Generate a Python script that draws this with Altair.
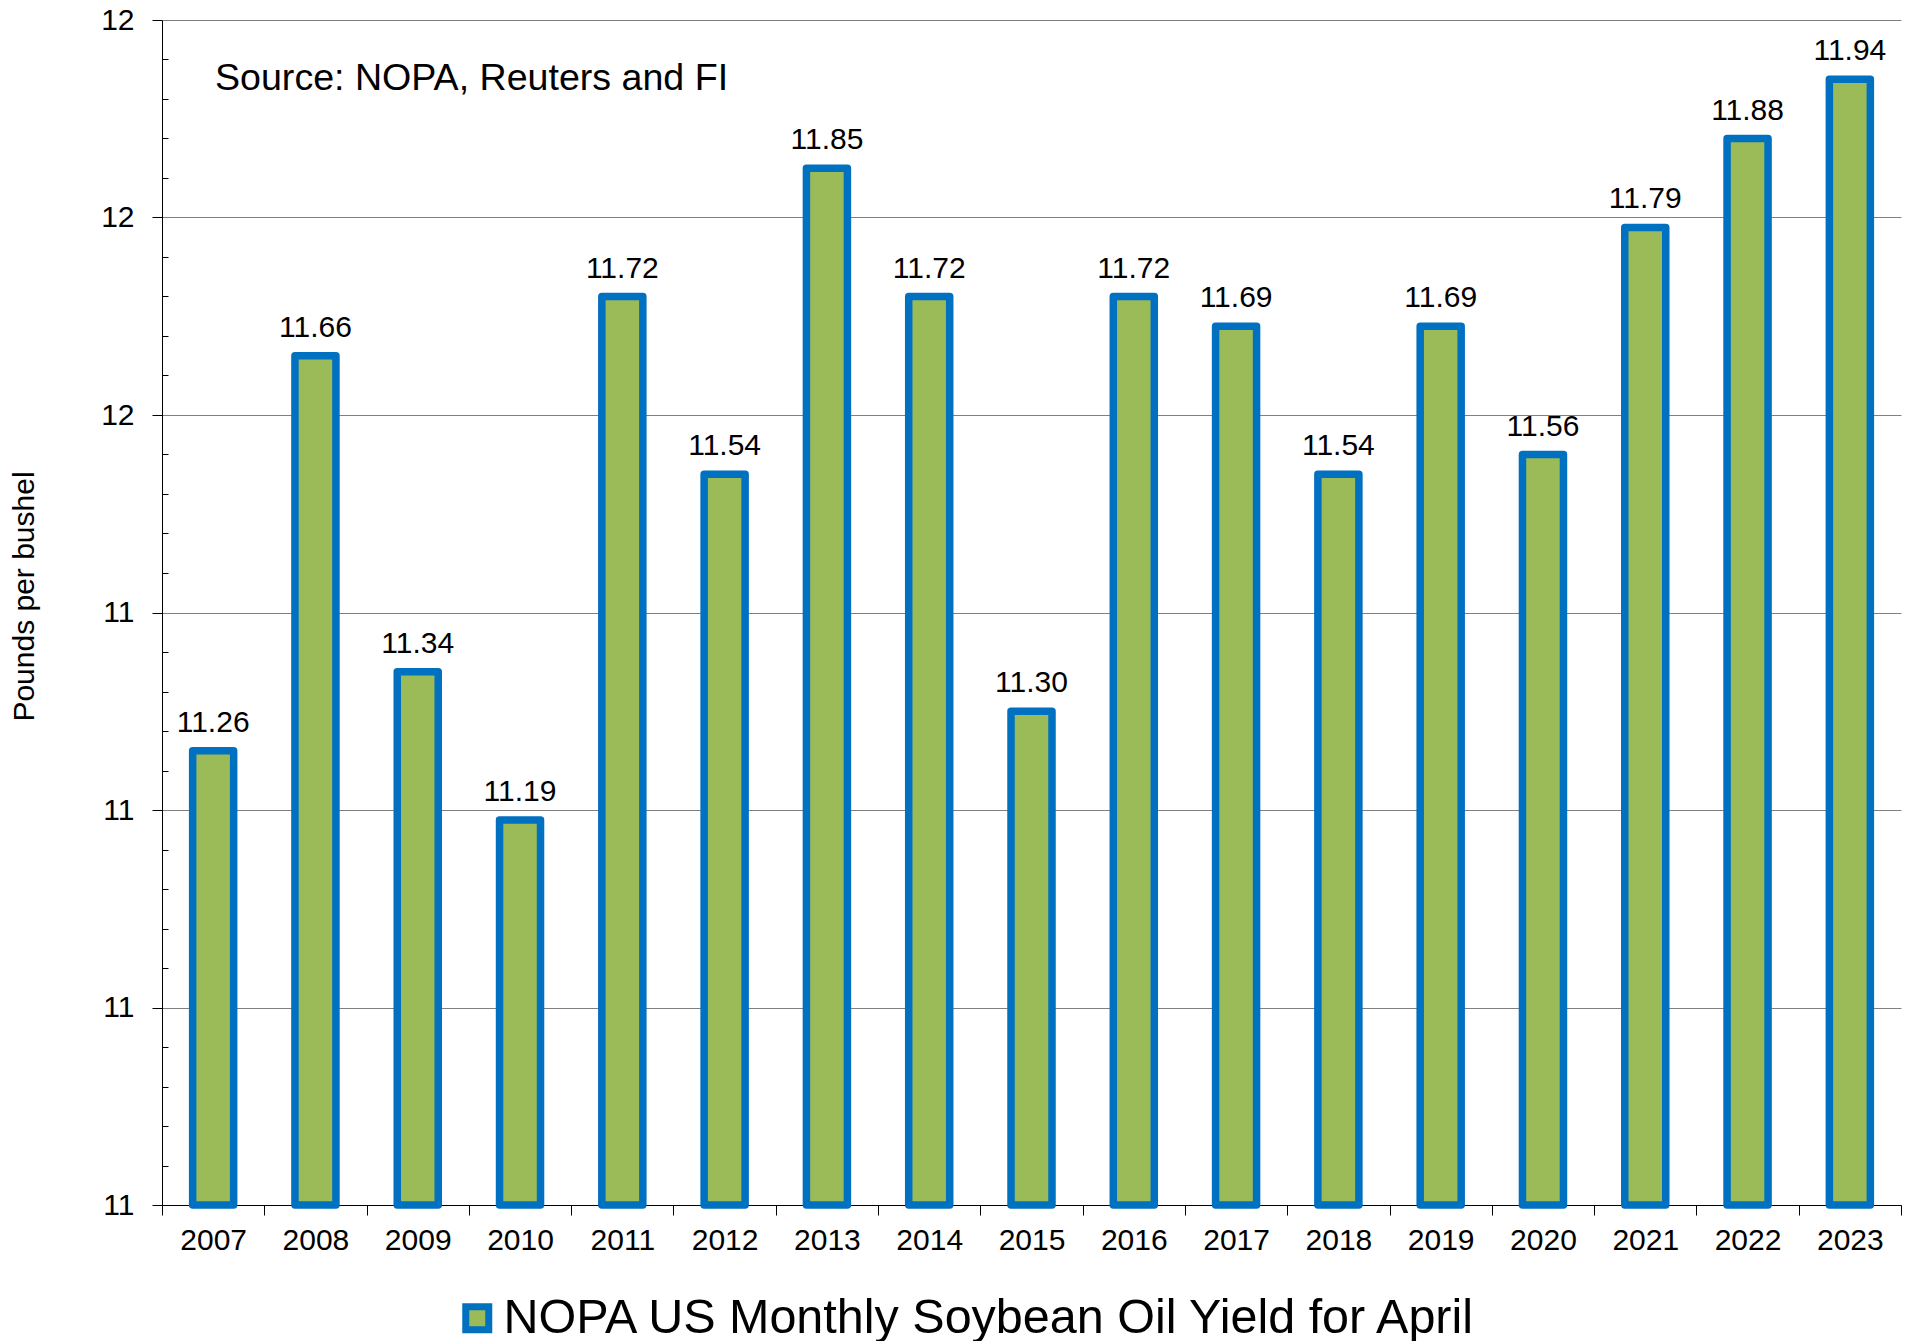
import altair as alt
import pandas as pd

years = ["2007", "2008", "2009", "2010", "2011", "2012", "2013", "2014", "2015",
         "2016", "2017", "2018", "2019", "2020", "2021", "2022", "2023"]
yields = [11.26, 11.66, 11.34, 11.19, 11.72, 11.54, 11.85, 11.72, 11.30,
          11.72, 11.69, 11.54, 11.69, 11.56, 11.79, 11.88, 11.94]
series_name = "NOPA US Monthly Soybean Oil Yield for April"
y_ticks = [10.8, 11.0, 11.2, 11.4, 11.6, 11.8, 12.0]
y_minor = [10.84, 10.88, 10.92, 10.96, 11.04, 11.08, 11.12, 11.16,
           11.24, 11.28, 11.32, 11.36, 11.44, 11.48, 11.52, 11.56,
           11.64, 11.68, 11.72, 11.76, 11.84, 11.88, 11.92, 11.96]
y_title = "Pounds per bushel"
source_note = "Source: NOPA, Reuters and FI"

FONT = "Liberation Sans"
GREEN = "#9BBB59"
BLUE = "#0070C0"

df = pd.DataFrame({"year": years, "value": yields, "series": series_name})
note_df = pd.DataFrame({"t": [source_note]})

x_enc = alt.X(
    "year:N", sort=years,
    scale=alt.Scale(paddingInner=0, paddingOuter=0),
    axis=alt.Axis(title=None, tickBand="extent", labelAngle=0, labelFontSize=30,
                  labelFont=FONT, labelColor="black", tickSize=10, tickColor="black",
                  domainColor="black", labelPadding=10, grid=False),
)
y_scale = alt.Scale(domain=[y_ticks[0], y_ticks[-1]], nice=False, zero=False)

bars = alt.Chart(df).mark_bar(
    size=41, stroke=BLUE, strokeWidth=7.5, strokeJoin="round"
).encode(
    x=x_enc,
    y=alt.Y("value:Q", scale=y_scale,
            axis=alt.Axis(values=y_ticks, format=".0f", title=y_title, orient="left",
                          titleFontSize=30, titleFont=FONT, titleFontWeight="normal",
                          titleColor="black", titlePadding=61, titleY=576,
                          labelFontSize=30, labelFont=FONT, labelColor="black",
                          labelPadding=18, tickSize=10, tickColor="black",
                          domainColor="black", grid=True, gridColor="#808080")),
    y2=alt.Y2(datum=y_ticks[0]),
    color=alt.Color("series:N",
                    scale=alt.Scale(domain=[series_name], range=[GREEN]),
                    legend=alt.Legend(title=None, orient="none", legendX=291, legendY=1274,
                                      symbolType="square", symbolSize=529,
                                      symbolStrokeColor=BLUE, symbolStrokeWidth=7,
                                      labelFontSize=48.5, labelFont=FONT, labelColor="black",
                                      labelLimit=0, labelOffset=2)),
)

labels = alt.Chart(df).mark_text(
    dy=-19, baseline="alphabetic", fontSize=30, font=FONT, color="black"
).encode(
    x=alt.X("year:N", sort=years),
    y=alt.Y("value:Q", scale=y_scale,
            axis=alt.Axis(values=y_minor, orient="left", offset=-6, tickSize=6,
                          labels=False, domain=False, grid=False, title=None,
                          tickColor="black")),
    text=alt.Text("value:Q", format=".2f"),
)

note = alt.Chart(note_df).mark_text(
    align="left", baseline="middle", fontSize=37.6, font=FONT, color="black"
).encode(x=alt.value(53), y=alt.value(59), text="t:N")

chart = alt.layer(bars, labels, note).resolve_axis(y="independent").properties(
    width=1739, height=1185,
    autosize=alt.AutoSizeParams(type="none"),
    padding={"left": 154, "top": 12, "right": 10, "bottom": 136},
).configure_view(stroke=None)

chart.save("out.html", embed_options={"renderer": "svg", "actions": False})
